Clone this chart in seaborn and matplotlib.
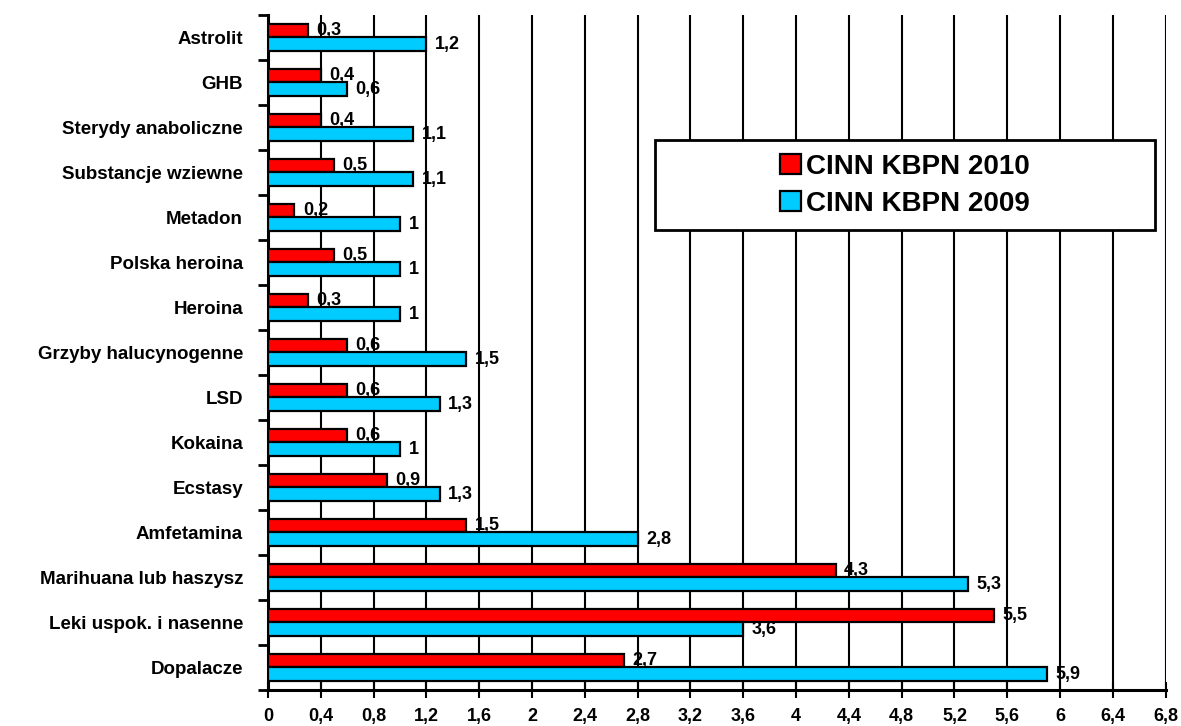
import pandas as pd
import matplotlib
matplotlib.use('Agg')
import matplotlib.pyplot as plt
import seaborn as sns
from matplotlib.patches import Rectangle

categories = ['Astrolit', 'GHB', 'Sterydy anaboliczne', 'Substancje wziewne', 'Metadon',
              'Polska heroina', 'Heroina', 'Grzyby halucynogenne', 'LSD', 'Kokaina',
              'Ecstasy', 'Amfetamina', 'Marihuana lub haszysz', 'Leki uspok. i nasenne',
              'Dopalacze']
vals_2010 = [0.3, 0.4, 0.4, 0.5, 0.2, 0.5, 0.3, 0.6, 0.6, 0.6, 0.9, 1.5, 4.3, 5.5, 2.7]
vals_2009 = [1.2, 0.6, 1.1, 1.1, 1.0, 1.0, 1.0, 1.5, 1.3, 1.0, 1.3, 2.8, 5.3, 3.6, 5.9]
series = ['CINN KBPN 2010', 'CINN KBPN 2009']
x_ticks = [0, 0.4, 0.8, 1.2, 1.6, 2, 2.4, 2.8, 3.2, 3.6, 4, 4.4, 4.8, 5.2, 5.6, 6, 6.4, 6.8]

df = pd.DataFrame({
    'kategoria': categories * 2,
    'wartosc': vals_2010 + vals_2009,
    'seria': [series[0]] * len(categories) + [series[1]] * len(categories),
})

sns.set_style('white')
plt.rcParams['font.family'] = ['Liberation Sans', 'DejaVu Sans']
plt.rcParams['font.weight'] = 'bold'
plt.rcParams['text.color'] = 'black'
plt.rcParams['xtick.color'] = 'black'
plt.rcParams['ytick.color'] = 'black'

fig = plt.figure(figsize=(11.81, 7.26), dpi=100)
ax = fig.add_axes([0.227, 0.0496, 0.760, 0.9298])

sns.barplot(data=df, y='kategoria', x='wartosc', hue='seria', hue_order=series,
            order=categories, orient='h', width=0.62, saturation=1,
            palette={series[0]: '#FF0000', series[1]: '#00CCFF'},
            edgecolor='black', linewidth=1.6, ax=ax, zorder=3)

def fmt(v):
    return ('%g' % v).replace('.', ',')

for cont in ax.containers:
    ax.bar_label(cont, labels=[fmt(b.get_width()) for b in cont],
                 padding=6, fontsize=13, fontweight='bold', color='black', zorder=6)

ax.set_xlim(0, 6.8)
ax.set_ylim(len(categories) - 0.5, -0.5)
ax.set_xticks(x_ticks)
ax.set_xticklabels([fmt(t) for t in x_ticks], fontsize=13, fontweight='bold', va='baseline')
ax.set_yticklabels(categories, fontsize=13.5, fontweight='bold')
ax.set_xlabel('')
ax.set_ylabel('')

# gridlines
ax.grid(axis='x', color='black', linewidth=1.5, zorder=0)
ax.set_axisbelow(True)

# spines
for s in ['top', 'right']:
    ax.spines[s].set_visible(False)
for s in ['left', 'bottom']:
    ax.spines[s].set_color('black')
    ax.spines[s].set_linewidth(2.2)

# ticks
ax.tick_params(axis='y', which='major', left=True, length=0, pad=18)
ax.set_yticks([i - 0.5 for i in range(len(categories) + 1)], minor=True)
ax.tick_params(axis='y', which='minor', left=True, direction='out', length=7, width=2, color='black')
ax.tick_params(axis='x', which='major', bottom=True, direction='inout', length=12, width=1.5,
               color='black', pad=16)

# legend box
ax.add_patch(Rectangle((0.431, 0.681), 0.557, 0.134, transform=ax.transAxes,
                       facecolor='white', edgecolor='black', linewidth=2, zorder=4))
handles, labels = ax.get_legend_handles_labels()
leg = ax.legend(handles, labels, loc='center', bbox_to_anchor=(0.7095, 0.748),
                frameon=False, handlelength=0.75, handleheight=0.75,
                handletextpad=0.2, labelspacing=0.4, prop={'weight': 'bold', 'size': 20})
leg.set_zorder(5)
for t in leg.get_texts():
    t.set_color('black')

plt.savefig('out.png', dpi=100)
